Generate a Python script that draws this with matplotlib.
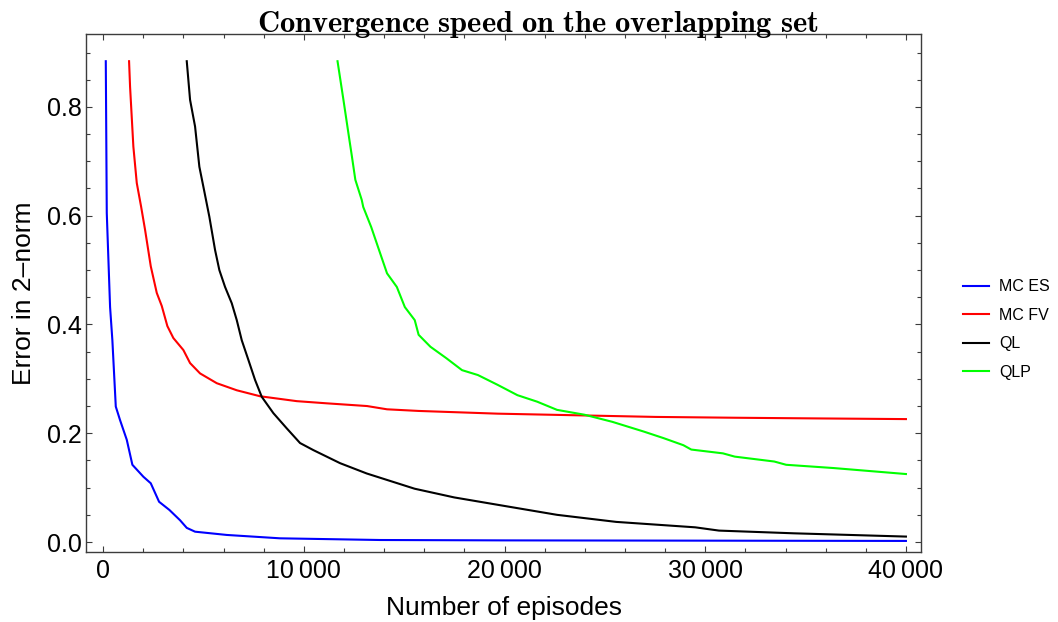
import numpy as np
import matplotlib
matplotlib.use('Agg')
import matplotlib.pyplot as plt
from matplotlib.ticker import MultipleLocator, FuncFormatter

plt.rcParams['font.family'] = ['Liberation Sans', 'DejaVu Sans']
plt.rcParams['mathtext.fontset'] = 'cm'

# values
mc_es_x = [135, 184, 349, 463, 633, 847, 1180, 1460, 2008, 2376, 2790, 3303,
           3836, 4169, 4583, 6162, 8817, 13800, 20000, 30000, 40000]
mc_es_y = [0.884, 0.605, 0.432, 0.371, 0.249, 0.224, 0.188, 0.142, 0.120, 0.108,
           0.074, 0.059, 0.040, 0.026, 0.019, 0.013, 0.0068, 0.0037, 0.003, 0.0025, 0.002]

mc_fv_x = [1295, 1345, 1509, 1679, 1893, 2092, 2376, 2675, 2924, 3203, 3502, 4000,
           4334, 4832, 5664, 6660, 7821, 9649, 11143, 13151, 14147, 15721, 19656,
           23597, 27532, 31472, 35407, 40000]
mc_fv_y = [0.884, 0.837, 0.727, 0.660, 0.617, 0.574, 0.507, 0.458, 0.434, 0.397,
           0.375, 0.353, 0.329, 0.310, 0.292, 0.279, 0.268, 0.259, 0.255, 0.250,
           0.244, 0.241, 0.236, 0.233, 0.230, 0.2285, 0.2273, 0.226]

ql_x = [4169, 4334, 4583, 4797, 5031, 5295, 5579, 5793, 6077, 6411, 6660, 6909,
        7238, 7572, 7905, 8483, 9150, 9813, 10476, 11806, 13136, 15522, 17494,
        20050, 22615, 25564, 29504, 30685, 34421, 40000]
ql_y = [0.884, 0.813, 0.764, 0.690, 0.647, 0.598, 0.537, 0.500, 0.469, 0.439,
        0.408, 0.371, 0.335, 0.298, 0.267, 0.237, 0.209, 0.182, 0.169, 0.145,
        0.126, 0.098, 0.082, 0.066, 0.050, 0.037, 0.027, 0.021, 0.016, 0.010]

qlp_x = [11681, 11975, 12274, 12389, 12568, 12887, 12962, 13360, 13748, 14147,
         14635, 15034, 15527, 15721, 16309, 17101, 17883, 18675, 19656, 20643,
         21629, 22615, 23990, 25370, 26944, 27925, 28912, 29305, 30884, 31472,
         33440, 34032, 36394, 38361, 40000]
qlp_y = [0.884, 0.813, 0.739, 0.711, 0.666, 0.629, 0.616, 0.579, 0.537, 0.494,
         0.469, 0.432, 0.408, 0.381, 0.359, 0.338, 0.316, 0.307, 0.289, 0.270,
         0.258, 0.243, 0.234, 0.221, 0.203, 0.191, 0.178, 0.170, 0.163, 0.157,
         0.148, 0.142, 0.136, 0.130, 0.125]

fig = plt.figure(figsize=(10.58, 6.22), dpi=100)
ax = fig.add_axes([0.0813, 0.1125, 0.7892, 0.8328])

ax.plot(mc_es_x, mc_es_y, color=(0, 0, 1), lw=1.5, label='MC ES')
ax.plot(mc_fv_x, mc_fv_y, color=(1, 0, 0), lw=1.5, label='MC FV')
ax.plot(ql_x, ql_y, color='k', lw=1.5, label='QL')
ax.plot(qlp_x, qlp_y, color=(0, 1, 0), lw=1.5, label='QLP')

ax.set_xlim(-850, 40750)
ax.set_ylim(-0.0184, 0.934)

ax.xaxis.set_major_locator(MultipleLocator(10000))
ax.xaxis.set_minor_locator(MultipleLocator(2000))
ax.yaxis.set_major_locator(MultipleLocator(0.2))
ax.yaxis.set_minor_locator(MultipleLocator(0.05))
ax.xaxis.set_major_formatter(FuncFormatter(
    lambda v, p: '0' if v == 0 else '{:,}'.format(int(v)).replace(',', '\u2009')))
ax.yaxis.set_major_formatter(FuncFormatter(lambda v, p: '%.1f' % v))

frame = '#3c3c3c'
for s in ax.spines.values():
    s.set_color(frame)
    s.set_linewidth(1.0)
ax.tick_params(which='both', direction='in', top=True, right=True, color=frame, width=0.8)
ax.tick_params(which='major', length=4.5)
ax.tick_params(which='minor', length=2.7)
ax.tick_params(axis='x', which='major', labelsize=18, pad=5)
ax.tick_params(axis='y', which='major', labelsize=18, pad=3)

ax.set_xlabel('Number of episodes', fontsize=19)
ax.set_ylabel('Error in 2\u2013norm', fontsize=19)
ax.xaxis.set_label_coords(0.5, -0.085)
ax.yaxis.set_label_coords(-0.060, 0.5)

fig.text(0.508, 0.949, r'$\mathbf{Convergence\ speed\ on\ the\ overlapping\ set}$',
         fontsize=22, ha='center', va='baseline')

fig.legend(loc='center left', bbox_to_anchor=(963 / 1058, 1 - 329.5 / 622),
           frameon=False, fontsize=11.5, handlelength=1.6, handletextpad=0.65,
           labelspacing=0.85, borderpad=0, borderaxespad=0)

fig.savefig('out.png', dpi=100)
